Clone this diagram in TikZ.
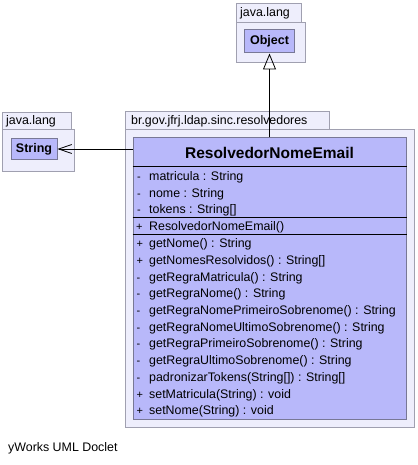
\documentclass[tikz,border=0pt]{standalone}
\usepackage{fontspec}
\setmainfont{Liberation Sans}
\usetikzlibrary{arrows.meta}
\definecolor{pkgfill}{RGB}{238,238,252}
\definecolor{pkgdraw}{RGB}{160,160,176}
\definecolor{clsfill}{RGB}{184,184,250}
\definecolor{clsdraw}{RGB}{120,120,150}
\tikzset{
  pkg/.style={draw=pkgdraw, fill=pkgfill, line width=0.8pt},
  cls/.style={draw=clsdraw, fill=clsfill, line width=1pt},
  pkgtext/.style={anchor=base west, inner sep=0pt, font=\fontsize{12.4}{14}\selectfont},
  member/.style={anchor=base west, inner sep=0pt, font=\fontsize{12.4}{14}\selectfont},
  vis/.style={anchor=base west, inner sep=0pt, font=\fontsize{11}{13}\selectfont},
  sep/.style={draw=black, line width=0.9pt}
}
\begin{document}
\begin{tikzpicture}[x=1pt,y=-1pt]
\useasboundingbox (0,0) rectangle (417,465);
% Object package
\draw[pkg] (236,3) rectangle (301,22);
\draw[pkg] (236,22) rectangle (305,62);
\node[pkgtext] (objpkg) at (240,16.5) {java.lang};
\node[cls, minimum width=50pt, minimum height=23pt, inner sep=0pt, font=\fontsize{12.5}{14}\selectfont\bfseries] (object) at (269.5,41.5) {Object};
% String package
\draw[pkg] (2,112) rectangle (71,129);
\draw[pkg] (2,129) rectangle (74,171);
\node[pkgtext] (strpkg) at (6,125) {java.lang};
\node[cls, minimum width=46pt, minimum height=21pt, inner sep=0pt, font=\fontsize{12.5}{14}\selectfont\bfseries] (string) at (34,149) {String};
% main package
\draw[pkg] (125,111) rectangle (329,129);
\draw[pkg] (125,129) rectangle (414,427);
\node[pkgtext] (mainpkg) at (131,124.5) {br.gov.jfrj.ldap.sinc.resolvedores};
\node[cls, minimum width=273pt, minimum height=281pt, inner sep=0pt] (main) at (269.5,278.5) {};
\node[inner sep=0pt, font=\fontsize{15.5}{18}\selectfont\bfseries] (title) at (269.5,153) {ResolvedorNomeEmail};
\draw[sep] (main.west |- 0,166.5) coordinate (s1a) -- (main.east |- 0,166.5) coordinate (s1b);
\draw[sep] (main.west |- 0,217) coordinate (s2a) -- (main.east |- 0,217) coordinate (s2b);
\draw[sep] (main.west |- 0,234.5) coordinate (s3a) -- (main.east |- 0,234.5) coordinate (s3b);
% attributes
\foreach \v/\t [count=\i] in {-/matricula : String, -/nome : String, -/tokens : String[]} {
  \node[vis] (av\i) at (137,163.8+16.6*\i) {\v};
  \node[member] (a\i) at (149,163.8+16.6*\i) {\t};
}
\node[vis] (cv) at (136,230.5) {+};
\node[member] (c1) at (149,230.5) {ResolvedorNomeEmail()};
\foreach \v/\t [count=\i] in {+/getNome() : String, +/getNomesResolvidos() : String[], -/getRegraMatricula() : String, -/getRegraNome() : String, -/getRegraNomePrimeiroSobrenome() : String, -/getRegraNomeUltimoSobrenome() : String, -/getRegraPrimeiroSobrenome() : String, -/getRegraUltimoSobrenome() : String, -/padronizarTokens(String[]) : String[], +/setMatricula(String) : void, +/setNome(String) : void} {
  \node[vis] (mv\i) at (136.5,231+16.7*\i) {\v};
  \node[member] (m\i) at (149,231+16.7*\i) {\t};
}
% connectors
\draw[line width=0.8pt, -{Triangle[open, length=16pt, width=13pt]}] (main.north -| object.south) -- (object.south);
\draw[line width=0.8pt, -{Straight Barb[length=13pt, width=9pt, line width=0.8pt]}] (main.west |- string.east) -- (string.east);
\node[anchor=base west, inner sep=0pt, font=\fontsize{12.4}{14}\selectfont] (footer) at (8,451) {yWorks UML Doclet};
\end{tikzpicture}
\end{document}
